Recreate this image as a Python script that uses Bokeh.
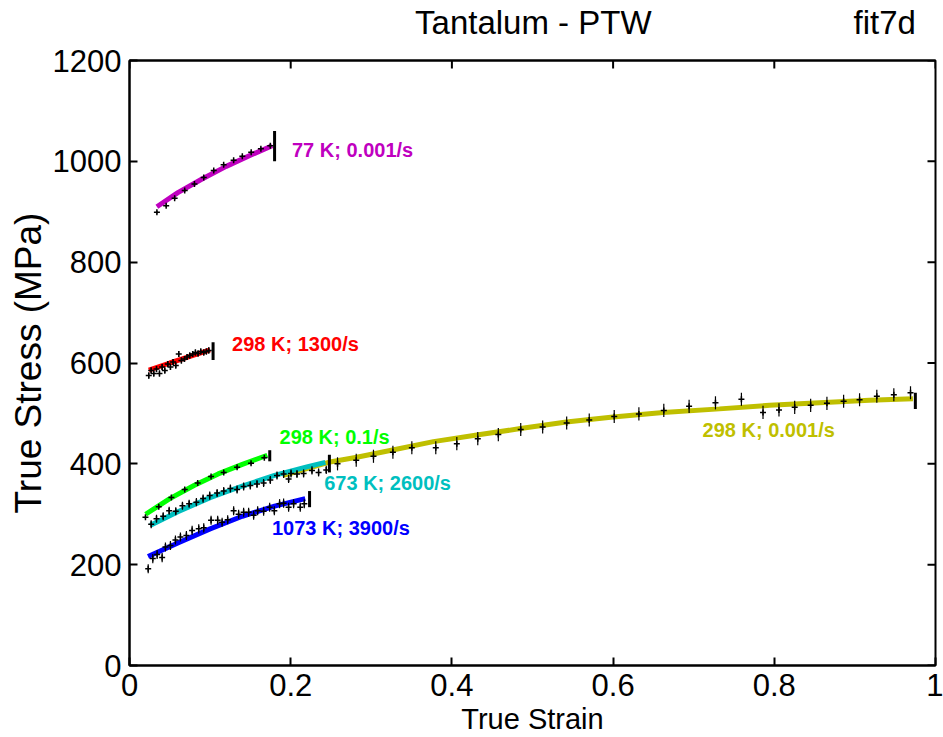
import math
from bokeh.plotting import figure
from bokeh.models import Range1d, FixedTicker, LinearAxis
from bokeh.embed import file_html
from bokeh.resources import INLINE
from bokeh.core.properties import value

FONT = "Liberation Sans"

# ---------------- data ----------------
x_ticks = [0, 0.2, 0.4, 0.6, 0.8, 1]
x_tick_labels = ["0", "0.2", "0.4", "0.6", "0.8", "1"]
y_ticks = [0, 200, 400, 600, 800, 1000, 1200]

# 77 K; 0.001/s
mag_fit_x = [0.034, 0.06, 0.09, 0.12, 0.15, 0.177]
mag_fit_y = [910, 938, 965, 990, 1012, 1031]
mag_x = [0.034, 0.0455, 0.056, 0.0685, 0.0806, 0.0921, 0.1045, 0.1168, 0.1292, 0.14, 0.151, 0.163, 0.1747]
mag_y = [899, 912, 927, 942, 955, 968, 982, 993, 1002, 1010, 1018, 1025, 1031]

# 298 K; 1300/s
red_fit_x = [0.024, 0.05, 0.075, 0.1]
red_fit_y = [586, 600, 613, 626]
red_x = [0.0239, 0.0269, 0.0301, 0.0335, 0.0372, 0.0405, 0.0438, 0.0475, 0.0508, 0.0541, 0.0574, 0.0611,
         0.0644, 0.0682, 0.0715, 0.0747, 0.0784, 0.0818, 0.0851, 0.0884, 0.0921, 0.0954, 0.0983]
red_y = [575, 585, 579, 588, 579, 592, 585, 598, 592, 602, 595, 618,
         605, 608, 612, 615, 618, 621, 619, 623, 621, 623, 625]

# 298 K; 0.1/s
green_fit_x = [0.02, 0.05, 0.08, 0.11, 0.14, 0.171]
green_fit_y = [300, 331, 357, 380, 399, 417]
green_x = [0.0198, 0.0363, 0.052, 0.0685, 0.0846, 0.1012, 0.1169, 0.1335, 0.1508, 0.1673]
green_y = [294, 315, 333, 349, 362, 375, 383, 393, 401, 412]

# 673 K; 2600/s
cyan_fit_x = [0.026, 0.06, 0.1, 0.14, 0.18, 0.22, 0.243]
cyan_fit_y = [278, 305, 333, 356, 377, 394, 403]
cyan_x = [0.0269, 0.0335, 0.0418, 0.0492, 0.0574, 0.0657, 0.074, 0.083, 0.0913, 0.0995, 0.1087, 0.1169,
          0.1252, 0.1335, 0.1416, 0.1499, 0.1582, 0.1664, 0.1747, 0.183, 0.1912, 0.1974, 0.2004, 0.2078,
          0.216, 0.2264, 0.2346, 0.2441]
cyan_y = [280, 291, 296, 307, 306, 317, 321, 324, 331, 337, 342, 346,
          351, 349, 355, 357, 360, 362, 368, 377, 380, 370, 381, 380,
          381, 387, 383, 388]

# 1073 K; 3900/s
blue_fit_x = [0.023, 0.06, 0.1, 0.14, 0.18, 0.218]
blue_fit_y = [216, 243, 271, 296, 316, 331]
blue_x = [0.0232, 0.0289, 0.0343, 0.0405, 0.0446, 0.0508, 0.057, 0.0632, 0.0706, 0.0777, 0.0859, 0.0921,
          0.1012, 0.1094, 0.1149, 0.1218, 0.1292, 0.1354, 0.1416, 0.1478, 0.154, 0.159, 0.1664, 0.1739,
          0.1797, 0.1862, 0.1912, 0.1974, 0.2036, 0.2119, 0.2169]
blue_y = [192, 212, 220, 214, 235, 238, 249, 255, 258, 268, 271, 273,
          288, 288, 284, 289, 307, 300, 304, 304, 298, 307, 306, 314,
          307, 321, 322, 314, 321, 314, 321]

# 298 K; 0.001/s
olive_fit_x = [0.191, 0.247, 0.282, 0.328, 0.377, 0.435, 0.485, 0.542, 0.600, 0.662, 0.732, 0.794, 0.856, 0.918, 0.972]
olive_fit_y = [377, 403, 413, 428, 444, 458, 470, 483, 493, 502, 509, 516, 521, 526, 529]
olive_x = [0.2581, 0.2813, 0.3027, 0.3268, 0.3503, 0.38, 0.4061, 0.4321, 0.4576, 0.4854, 0.5126, 0.5424,
           0.5704, 0.6014, 0.632, 0.6629, 0.6943, 0.727, 0.7592, 0.786, 0.8058, 0.8253, 0.8451, 0.8653,
           0.886, 0.9058, 0.9272, 0.9483, 0.969]
olive_y = [400, 407, 415, 423, 432, 432, 440, 450, 458, 468, 473, 481,
           487, 494, 499, 506, 514, 521, 528, 502, 507, 512, 516, 520,
           524, 527, 534, 537, 541]

# end-of-range bars
end_x = [0.18, 0.1037, 0.174, 0.248, 0.2234, 0.975]
end_lo = [1000, 606, 405, 383, 314, 509]
end_hi = [1060, 641, 427, 418, 346, 541]

# series labels
lab_text = ["77 K; 0.001/s", "298 K; 1300/s", "298 K; 0.1/s", "673 K; 2600/s", "1073 K; 3900/s", "298 K; 0.001/s"]
lab_x = [0.2016, 0.1273, 0.1862, 0.2416, 0.1768, 0.711]
lab_y = [1023, 637, 453, 361, 272, 467]
lab_color = ["#BF00BF", "#FF0000", "#00FF00", "#00BFBF", "#0000FF", "#BFBF00"]

# header texts (title centred over the box, run id at the top right)
head_text = ["Tantalum - PTW", "fit7d"]
head_pos = [0.501, 0.937]

# ---------------- figure ----------------
p = figure(width=943, height=737, output_backend="svg", toolbar_location=None,
           x_range=Range1d(0, 1), y_range=Range1d(0, 1200),
           min_border_left=129, min_border_right=8, min_border_top=60, min_border_bottom=72)
p.xgrid.visible = False
p.ygrid.visible = False
p.outline_line_color = "black"
p.outline_line_width = 2

for ax in (p.xaxis[0], p.yaxis[0]):
    ax.major_tick_in = 8
    ax.major_tick_out = 0
    ax.minor_tick_in = 0
    ax.minor_tick_out = 0
    ax.axis_line_width = 2
    ax.axis_line_color = "black"
    ax.major_tick_line_width = 2
    ax.major_tick_line_color = "black"
    ax.major_label_text_font = FONT
    ax.major_label_text_font_size = "31px"
    ax.major_label_text_color = "black"
    ax.axis_label_text_font = FONT
    ax.axis_label_text_font_style = "normal"
    ax.axis_label_text_color = "black"

p.xaxis.ticker = FixedTicker(ticks=x_ticks)
p.xaxis.major_label_overrides = dict(zip(x_ticks, x_tick_labels))
p.xaxis.major_label_standoff = 8
p.xaxis.axis_label = "True Strain"
p.xaxis.axis_label_text_font_size = "29px"
p.xaxis.axis_label_standoff = 4

p.yaxis.ticker = FixedTicker(ticks=y_ticks)
p.yaxis.major_label_standoff = 8
p.yaxis.axis_label = "True Stress (MPa)"
p.yaxis.axis_label_text_font_size = "37px"
p.yaxis.axis_label_standoff = 1

# header line: title and run id written along the top edge
head_ax = LinearAxis(ticker=FixedTicker(ticks=head_pos),
                     major_label_overrides=dict(zip(head_pos, head_text)))
head_ax.major_tick_in = 0
head_ax.major_tick_out = 0
head_ax.minor_tick_in = 0
head_ax.minor_tick_out = 0
head_ax.axis_line_width = 2
head_ax.axis_line_color = "black"
head_ax.major_label_text_font = FONT
head_ax.major_label_text_font_size = "33px"
head_ax.major_label_text_color = "black"
head_ax.major_label_standoff = 20
p.add_layout(head_ax, "above")

# inward ticks on the top and right edges of the box
p.ray(x=x_ticks, y=[1200] * len(x_ticks), length=8, length_units="screen",
      angle=-math.pi / 2, line_color="black", line_width=2)
p.ray(x=[1] * len(y_ticks), y=y_ticks, length=8, length_units="screen",
      angle=math.pi, line_color="black", line_width=2)

# fits (olive first, underneath)
fits = [
    (olive_fit_x, olive_fit_y, "#BFBF00"),
    (mag_fit_x, mag_fit_y, "#BF00BF"),
    (red_fit_x, red_fit_y, "#FF0000"),
    (green_fit_x, green_fit_y, "#00FF00"),
    (cyan_fit_x, cyan_fit_y, "#00BFBF"),
    (blue_fit_x, blue_fit_y, "#0000FF"),
]
for fx, fy, c in fits:
    p.line(fx, fy, line_color=c, line_width=5)

# data points with error bars
pts = [
    (mag_x, mag_y, 3),
    (red_x, red_y, 6),
    (green_x, green_y, 3),
    (cyan_x, cyan_y, 8),
    (blue_x, blue_y, 9),
    (olive_x, olive_y, 13),
]
for px, py, err in pts:
    p.segment(px, [v - err for v in py], px, [v + err for v in py], line_color="black", line_width=1.2)
    p.scatter(px, py, marker="cross", size=6, line_color="black", line_width=1.5)

# end bars
p.segment(end_x, end_lo, end_x, end_hi, line_color="black", line_width=3)

# series labels
p.text(lab_x, lab_y, text=lab_text, text_color=lab_color, text_font=value(FONT),
       text_font_style="bold", text_font_size=value("20px"), text_align="left", text_baseline="middle")

open("out.html", "w").write(file_html(p, INLINE))
